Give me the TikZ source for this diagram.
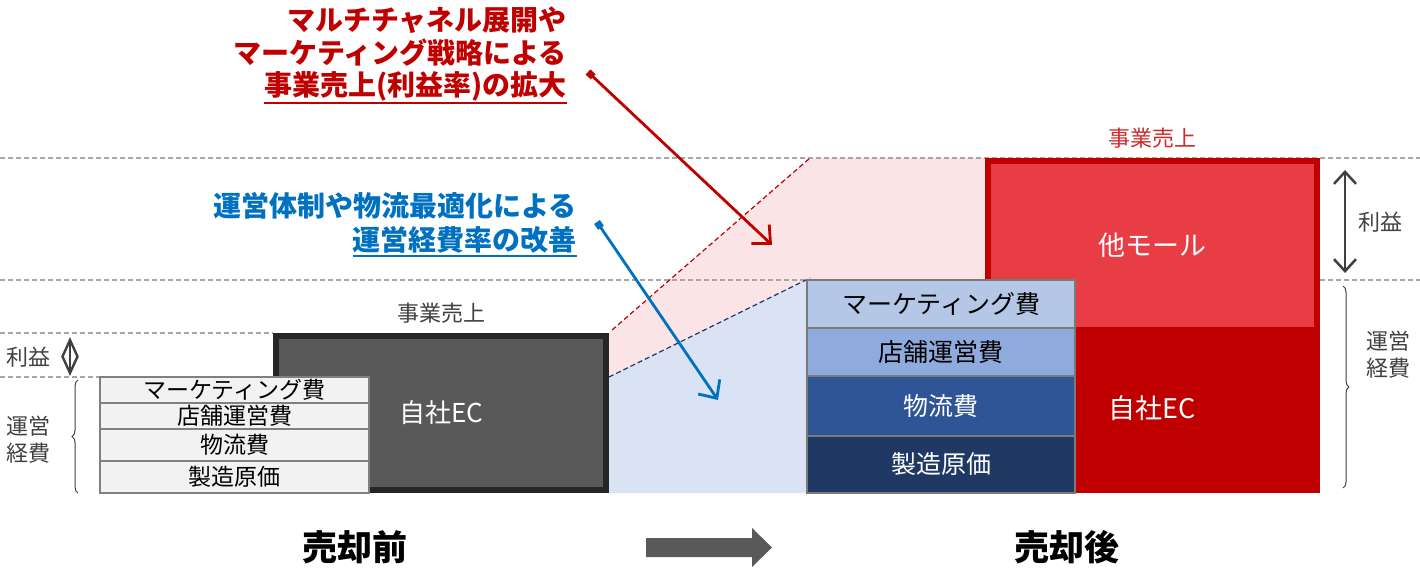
\documentclass[tikz,border=0pt]{standalone}
\usepackage{fontspec}
\setmainfont{Noto Sans CJK JP}
\usetikzlibrary{arrows.meta,decorations.pathreplacing}
\definecolor{darkborder}{HTML}{262626}
\definecolor{darkfill}{HTML}{595959}
\definecolor{gridgray}{HTML}{A6A6A6}
\definecolor{pinkarea}{HTML}{FBE4E6}
\definecolor{bluearea}{HTML}{DAE3F3}
\definecolor{mainred}{HTML}{C00000}
\definecolor{lightred}{HTML}{E83D44}
\definecolor{labelred}{HTML}{D02A2A}
\definecolor{bA}{HTML}{B4C7E7}
\definecolor{bB}{HTML}{8FAADC}
\definecolor{bC}{HTML}{2F5597}
\definecolor{bD}{HTML}{203864}
\definecolor{navy}{HTML}{203864}
\definecolor{annbluecol}{HTML}{0070C0}
\definecolor{txtgray}{HTML}{404040}
\definecolor{stackgray}{HTML}{F2F2F2}
\tikzset{
  gridline/.style={draw=gridgray, line width=1.2pt, dash pattern=on 5pt off 3pt},
  leftcell/.style={draw=gray, line width=1.3pt, fill=stackgray, minimum width=269pt, inner sep=0pt, font=\fontsize{23}{24}\selectfont, text=black},
  rightcell/.style={draw=darkfill!80, line width=1.3pt, minimum width=268pt, inner sep=0pt, font=\fontsize{25}{28}\selectfont},
  sidelabel/.style={font=\fontsize{22}{27}\selectfont, text=txtgray, align=center, inner sep=0pt},
  annredtext/.style={font=\bfseries\fontsize{28}{30}\selectfont, text=mainred, anchor=east, inner sep=0pt},
  annbluetext/.style={font=\bfseries\fontsize{28}{30}\selectfont, text=annbluecol, anchor=east, inner sep=0pt},
  bigtitle/.style={font=\bfseries\fontsize{35}{38}\selectfont, text=black, inner sep=0pt},
  bracestyle/.style={decorate, decoration={brace, amplitude=6pt}, draw=txtgray, line width=1pt},
  annarrow/.style={line width=2.8pt, {Square[length=7pt,width=7pt]}-{Straight Barb[length=14pt,width=26pt]}},
}
\begin{document}
\begin{tikzpicture}[x=1pt,y=-1pt]
\useasboundingbox (0,0) rectangle (1420,572);

% coordinates
\coordinate (pinktop) at (810,158);
\coordinate (pinkright) at (985,158);
\coordinate (bluetop) at (810,278);

% shaded transition areas
\fill[pinkarea] (609,333) -- (pinktop) -- (pinkright) -- (985,493) -- (609,493) -- cycle;
\fill[bluearea] (609,377) -- (bluetop) -- (810,493) -- (609,493) -- cycle;

% grid lines
\draw[gridline] (0,158) -- (1420,158);
\draw[gridline] (0,280) -- (1420,280);
\draw[gridline] (0,333) -- (273,333);
\draw[gridline] (0,377) -- (100,377);

% left EC box
\node[draw=darkborder, line width=6pt, fill=darkfill, minimum width=330pt, minimum height=154pt, inner sep=0pt,
      font=\fontsize{26}{30}\selectfont, text=white] (leftec) at (441,413) {自社EC};

% dashed transition lines
\draw[mainred, line width=1.2pt, dash pattern=on 5pt off 3pt] (leftec.north east) ++(3,-3) coordinate (lecne) -- (pinktop);

% left stack
\node[leftcell, minimum height=26pt] (lmkt) at (234.5,390) {マーケティング費};
\node[leftcell, minimum height=26pt] (lstore) at (234.5,416) {店舗運営費};
\node[leftcell, minimum height=32pt] (llogi) at (234.5,445) {物流費};
\node[leftcell, minimum height=32pt] (lmfg) at (234.5,477) {製造原価};

\coordinate (lecmid) at (609,377);
\draw[navy, line width=1.2pt, dash pattern=on 5pt off 3pt] (lecmid) -- (bluetop);

% red box
\node[fill=mainred, minimum width=335pt, minimum height=335pt, inner sep=0pt] (redbox) at (1152.5,325.5) {};
\node[fill=lightred, minimum width=323pt, minimum height=163pt, inner sep=0pt,
      font=\fontsize{27}{30}\selectfont, text=white] (othermall) at (1152.5,245.5) {\raisebox{2pt}{他モール}};
\node[font=\fontsize{27}{30}\selectfont, text=white, inner sep=0pt] (ownec) at (1152,408) {自社EC};

% right stack
\node[rightcell, fill=bA, minimum height=48pt, text=black] (rmkt) at (941,304) {マーケティング費};
\node[rightcell, fill=bB, minimum height=48pt, text=black] (rstore) at (941,352) {店舗運営費};
\node[rightcell, fill=bC, minimum height=60pt, text=white] (rlogi) at (941,406) {物流費};
\node[rightcell, fill=bD, minimum height=57pt, text=white] (rmfg) at (941,464.5) {製造原価};

% top labels
\node[font=\fontsize{22}{24}\selectfont, text=txtgray, inner sep=0pt] (salesL) at (441,313) {事業売上};
\node[font=\fontsize{22}{24}\selectfont, text=labelred, inner sep=0pt] (salesR) at (1152,138) {事業売上};

% left side labels
\node[sidelabel] (profitL) at (28,357) {利益};
\coordinate (dpTop) at (70,340);
\coordinate (dpBot) at (70,373);
\draw[txtgray, line width=2.4pt, line join=miter] (dpTop) -- (77.5,356.5) -- (dpBot) -- (62.5,356.5) -- cycle;
\draw[txtgray, line width=1.5pt] (dpTop) -- (dpBot);
\node[sidelabel] (opexL) at (28,440) {運営\\経費};
\coordinate (brLb) at (78,493);
\coordinate (brLt) at (78,380);
\draw[bracestyle] (brLb) -- (brLt);

% right side labels
\coordinate (rpTop) at (1345,170);
\coordinate (rpBot) at (1345,273);
\draw[txtgray, line width=2.5pt, {Straight Barb[length=12pt,width=22pt]}-{Straight Barb[length=12pt,width=22pt]}] (rpTop) -- (rpBot);
\node[sidelabel] (profitR) at (1380,222) {利益};
\coordinate (brRt) at (1343,286);
\coordinate (brRb) at (1343,488);
\draw[bracestyle] (brRt) -- (brRb);
\node[sidelabel] (opexR) at (1388,355) {運営\\経費};

% red annotation
\node[annredtext] (ra1) at (567,20) {マルチチャネル展開や};
\node[annredtext] (ra2) at (567,53) {マーケティング戦略による};
\node[annredtext] (ra3) at (567,86) {事業売上(利益率)の拡大};
\draw[mainred, line width=2pt] ([yshift=-2pt]ra3.south west) -- ([yshift=-2pt]ra3.south east);
\coordinate (raS) at (588,72);
\coordinate (raE) at (772,245);
\draw[mainred, annarrow] (raS) -- (raE);

% blue annotation
\node[annbluetext] (ba1) at (577,206) {運営体制や物流最適化による};
\node[annbluetext] (ba2) at (577,240) {運営経費率の改善};
\draw[annbluecol, line width=2pt] ([yshift=-2pt]ba2.south west) -- ([yshift=-2pt]ba2.south east);
\coordinate (baS) at (597,222);
\coordinate (baE) at (718,400);
\draw[annbluecol, annarrow] (baS) -- (baE);

% bottom
\node[bigtitle] (before) at (355,547) {売却前};
\node[bigtitle] (after) at (1067,547) {売却後};
\fill[darkfill] (646,538) -- (752,538) -- (752,528) -- (772,547.5) -- (752,567) -- (752,557) -- (646,557) -- cycle;
\end{tikzpicture}
\end{document}
